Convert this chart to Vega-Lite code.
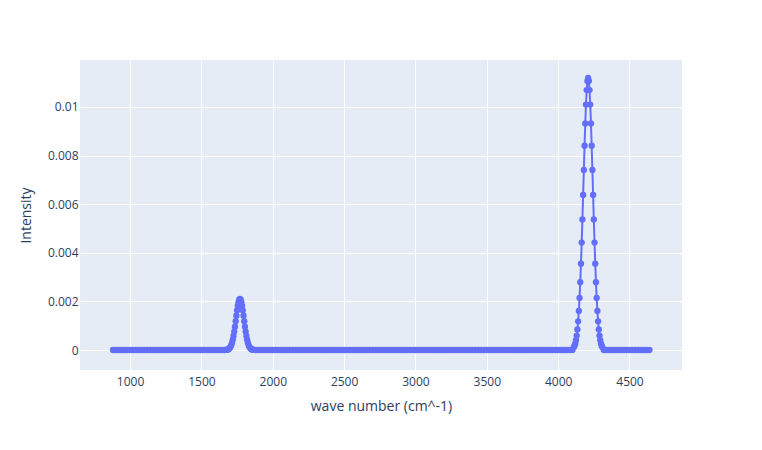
{
  "$schema": "https://vega.github.io/schema/vega-lite/v6.json",
  "width": 602,
  "height": 310,
  "padding": {"left": 80, "top": 60, "right": 80, "bottom": 80},
  "autosize": {"type": "none"},
  "background": "white",
  "config": {
    "view": {"stroke": null, "fill": "#E5ECF6"},
    "font": "Open Sans",
    "axis": {
      "domain": false, "ticks": false, "gridColor": "white", "gridWidth": 1,
      "labelColor": "#2a3f5f", "labelFontSize": 12, "labelFont": "Open Sans",
      "titleColor": "#2a3f5f", "titleFontSize": 14, "titleFontWeight": "normal", "titleFont": "Open Sans"
    }
  },
  "data": {"values": [
    {"x":880,"y":0},{"x":900,"y":0},{"x":920,"y":0},{"x":940,"y":0},{"x":960,"y":0},{"x":980,"y":0},{"x":1000,"y":0},{"x":1020,"y":0},{"x":1040,"y":0},{"x":1060,"y":0},
    {"x":1080,"y":0},{"x":1100,"y":0},{"x":1120,"y":0},{"x":1140,"y":0},{"x":1160,"y":0},{"x":1180,"y":0},{"x":1200,"y":0},{"x":1220,"y":0},{"x":1240,"y":0},{"x":1260,"y":0},
    {"x":1280,"y":0},{"x":1300,"y":0},{"x":1320,"y":0},{"x":1340,"y":0},{"x":1360,"y":0},{"x":1380,"y":0},{"x":1400,"y":0},{"x":1420,"y":0},{"x":1440,"y":0},{"x":1460,"y":0},
    {"x":1480,"y":0},{"x":1500,"y":0},{"x":1520,"y":0},{"x":1540,"y":0},{"x":1560,"y":0},{"x":1580,"y":0},{"x":1600,"y":0},{"x":1620,"y":0},{"x":1640,"y":0},{"x":1660,"y":0},
    {"x":1670,"y":0.0000036},{"x":1675,"y":0.0000066},{"x":1680,"y":0.000012},{"x":1685,"y":0.0000209},{"x":1690,"y":0.0000355},{"x":1695,"y":0.0000582},{"x":1700,"y":0.0000922},{"x":1705,"y":0.000142},{"x":1710,"y":0.000211},{"x":1715,"y":0.000305},
    {"x":1720,"y":0.000427},{"x":1725,"y":0.000577},{"x":1730,"y":0.000757},{"x":1735,"y":0.000961},{"x":1740,"y":0.001183},{"x":1745,"y":0.00141},{"x":1750,"y":0.001627},{"x":1755,"y":0.001819},{"x":1760,"y":0.00197},{"x":1765,"y":0.002067},
    {"x":1770,"y":0.0021},
    {"x":1775,"y":0.002067},{"x":1780,"y":0.00197},{"x":1785,"y":0.001819},{"x":1790,"y":0.001627},{"x":1795,"y":0.00141},{"x":1800,"y":0.001183},{"x":1805,"y":0.000961},{"x":1810,"y":0.000757},{"x":1815,"y":0.000577},{"x":1820,"y":0.000427},
    {"x":1825,"y":0.000305},{"x":1830,"y":0.000211},{"x":1835,"y":0.000142},{"x":1840,"y":0.0000922},{"x":1845,"y":0.0000582},{"x":1850,"y":0.0000355},{"x":1855,"y":0.0000209},{"x":1860,"y":0.000012},{"x":1865,"y":0.0000066},{"x":1870,"y":0.0000036},
    {"x":1880,"y":0},{"x":1900,"y":0},{"x":1920,"y":0},{"x":1940,"y":0},{"x":1960,"y":0},{"x":1980,"y":0},{"x":2000,"y":0},{"x":2020,"y":0},{"x":2040,"y":0},{"x":2060,"y":0},
    {"x":2080,"y":0},{"x":2100,"y":0},{"x":2120,"y":0},{"x":2140,"y":0},{"x":2160,"y":0},{"x":2180,"y":0},{"x":2200,"y":0},{"x":2220,"y":0},{"x":2240,"y":0},{"x":2260,"y":0},
    {"x":2280,"y":0},{"x":2300,"y":0},{"x":2320,"y":0},{"x":2340,"y":0},{"x":2360,"y":0},{"x":2380,"y":0},{"x":2400,"y":0},{"x":2420,"y":0},{"x":2440,"y":0},{"x":2460,"y":0},
    {"x":2480,"y":0},{"x":2500,"y":0},{"x":2520,"y":0},{"x":2540,"y":0},{"x":2560,"y":0},{"x":2580,"y":0},{"x":2600,"y":0},{"x":2620,"y":0},{"x":2640,"y":0},{"x":2660,"y":0},
    {"x":2680,"y":0},{"x":2700,"y":0},{"x":2720,"y":0},{"x":2740,"y":0},{"x":2760,"y":0},{"x":2780,"y":0},{"x":2800,"y":0},{"x":2820,"y":0},{"x":2840,"y":0},{"x":2860,"y":0},
    {"x":2880,"y":0},{"x":2900,"y":0},{"x":2920,"y":0},{"x":2940,"y":0},{"x":2960,"y":0},{"x":2980,"y":0},{"x":3000,"y":0},{"x":3020,"y":0},{"x":3040,"y":0},{"x":3060,"y":0},
    {"x":3080,"y":0},{"x":3100,"y":0},{"x":3120,"y":0},{"x":3140,"y":0},{"x":3160,"y":0},{"x":3180,"y":0},{"x":3200,"y":0},{"x":3220,"y":0},{"x":3240,"y":0},{"x":3260,"y":0},
    {"x":3280,"y":0},{"x":3300,"y":0},{"x":3320,"y":0},{"x":3340,"y":0},{"x":3360,"y":0},{"x":3380,"y":0},{"x":3400,"y":0},{"x":3420,"y":0},{"x":3440,"y":0},{"x":3460,"y":0},
    {"x":3480,"y":0},{"x":3500,"y":0},{"x":3520,"y":0},{"x":3540,"y":0},{"x":3560,"y":0},{"x":3580,"y":0},{"x":3600,"y":0},{"x":3620,"y":0},{"x":3640,"y":0},{"x":3660,"y":0},
    {"x":3680,"y":0},{"x":3700,"y":0},{"x":3720,"y":0},{"x":3740,"y":0},{"x":3760,"y":0},{"x":3780,"y":0},{"x":3800,"y":0},{"x":3820,"y":0},{"x":3840,"y":0},{"x":3860,"y":0},
    {"x":3880,"y":0},{"x":3900,"y":0},{"x":3920,"y":0},{"x":3940,"y":0},{"x":3960,"y":0},{"x":3980,"y":0},{"x":4000,"y":0},{"x":4020,"y":0},{"x":4040,"y":0},{"x":4060,"y":0},
    {"x":4080,"y":0},{"x":4100,"y":0},
    {"x":4110,"y":0.000113},{"x":4115,"y":0.000178},{"x":4120,"y":0.000272},{"x":4125,"y":0.000407},{"x":4130,"y":0.000592},{"x":4135,"y":0.000847},{"x":4140,"y":0.00118},{"x":4145,"y":0.001609},{"x":4150,"y":0.002145},{"x":4155,"y":0.002793},
    {"x":4160,"y":0.003554},{"x":4165,"y":0.00442},{"x":4170,"y":0.005373},{"x":4175,"y":0.006382},{"x":4180,"y":0.007409},{"x":4185,"y":0.008406},{"x":4190,"y":0.009321},{"x":4195,"y":0.010101},{"x":4200,"y":0.010697},{"x":4205,"y":0.011072},
    {"x":4210,"y":0.0112},
    {"x":4215,"y":0.011072},{"x":4220,"y":0.010697},{"x":4225,"y":0.010101},{"x":4230,"y":0.009321},{"x":4235,"y":0.008406},{"x":4240,"y":0.007409},{"x":4245,"y":0.006382},{"x":4250,"y":0.005373},{"x":4255,"y":0.00442},{"x":4260,"y":0.003554},
    {"x":4265,"y":0.002793},{"x":4270,"y":0.002145},{"x":4275,"y":0.001609},{"x":4280,"y":0.00118},{"x":4285,"y":0.000847},{"x":4290,"y":0.000592},{"x":4295,"y":0.000407},{"x":4300,"y":0.000272},{"x":4305,"y":0.000178},{"x":4310,"y":0.000113},
    {"x":4320,"y":0},{"x":4340,"y":0},{"x":4360,"y":0},{"x":4380,"y":0},{"x":4400,"y":0},{"x":4420,"y":0},{"x":4440,"y":0},{"x":4460,"y":0},{"x":4480,"y":0},{"x":4500,"y":0},
    {"x":4520,"y":0},{"x":4540,"y":0},{"x":4560,"y":0},{"x":4580,"y":0},{"x":4600,"y":0},{"x":4620,"y":0},{"x":4640,"y":0}
  ]},
  "mark": {"type": "line", "color": "#636efa", "strokeWidth": 2, "clip": true,
    "point": {"filled": true, "size": 40, "color": "#636efa", "opacity": 1}},
  "encoding": {
    "x": {"field": "x", "type": "quantitative", "title": "wave number (cm^-1)",
      "scale": {"domain": [649, 4868], "nice": false, "zero": false},
      "axis": {"values": [1000, 1500, 2000, 2500, 3000, 3500, 4000, 4500], "format": "d", "labelPadding": 6, "titlePadding": 12}},
    "y": {"field": "y", "type": "quantitative", "title": "Intensity",
      "scale": {"domain": [-0.000823, 0.011934], "nice": false, "zero": false},
      "axis": {"values": [0, 0.002, 0.004, 0.006, 0.008, 0.01], "format": "~g", "labelPadding": 2, "titlePadding": 14}}
  }
}
